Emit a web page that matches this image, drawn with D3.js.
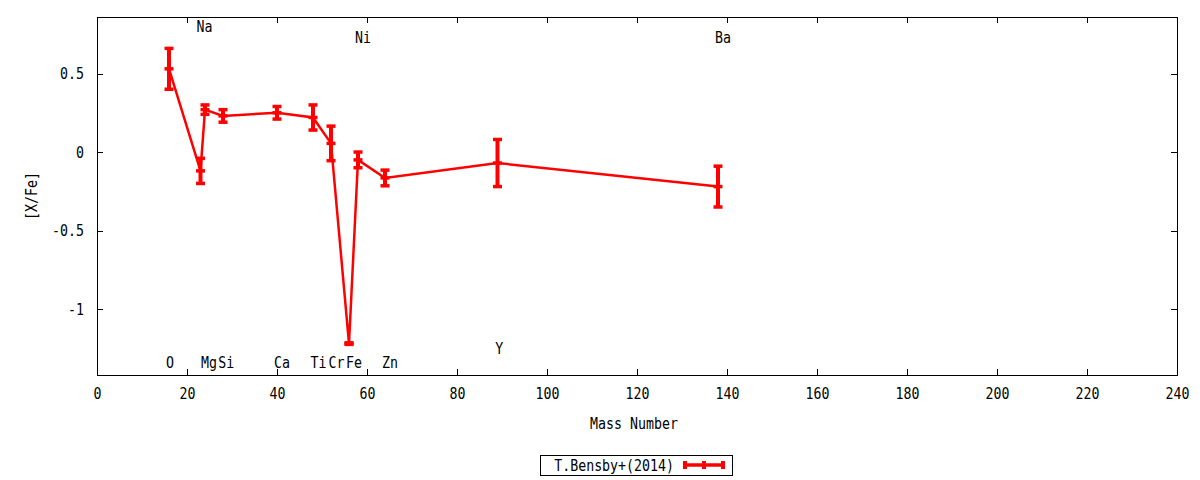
<!DOCTYPE html>
<html>
<head>
<meta charset="utf-8">
<script src="https://cdn.jsdelivr.net/npm/d3@7"></script>
<style>
	html, body { margin: 0; padding: 0; background: #fff; }
	svg text { font-family: "DejaVu Sans Mono", monospace; font-size: 16px; fill: #000; }
</style>
</head>
<body>
<div id="chart"></div>
<script>
// abundances
const elements = ['O', 'Na', 'Mg', 'Si', 'Ca', 'Ti', 'Cr', 'Fe', 'Ni', 'Zn', 'Y', 'Ba'];
const massNumber = [16, 23, 24, 28, 40, 48, 52, 56, 58, 64, 89, 138];
const xFe = [0.53, -0.12, 0.27, 0.23, 0.25, 0.22, 0.055, -1.22, -0.05, -0.165, -0.07, -0.22];
const xFeErr = [0.13, 0.08, 0.03, 0.04, 0.04, 0.08, 0.11, 0.005, 0.05, 0.05, 0.15, 0.13];

// where the element names sit (data units)
const labelX = [16.2, 23.9, 24.9, 28.7, 41.1, 49.2, 53.2, 57.1, 59.1, 65.1, 89.4, 139.1];
const labelY = [-1.34, 0.80, -1.34, -1.34, -1.34, -1.34, -1.34, -1.34, 0.73, -1.34, -1.25, 0.73];

const xTicks = d3.range(0, 241, 20);
const yTicks = [-1, -0.5, 0, 0.5];
const seriesName = 'T.Bensby+(2014)';

const width = 1200, height = 480;
const margin = {top: 17, right: 23, bottom: 105, left: 97};
const red = '#ff0000';
const SQUEEZE = 0.83; // the gnuplot font is narrower than DejaVu Sans Mono

const data = elements.map((el, i) => ({
	el: el,
	x: massNumber[i],
	y: xFe[i],
	err: xFeErr[i]
}));

const svg = d3.select('#chart').append('svg')
	.attr('width', width)
	.attr('height', height);

const x = d3.scaleLinear()
	.domain([0, 240])
	.range([margin.left, width - margin.right]);

const y = d3.scaleLinear()
	.domain([-1.42, 0.86])
	.range([height - margin.bottom, margin.top]);

// narrow text horizontally, keeping its anchor point
function squeeze(sel) {
	sel.each(function() {
		const t = d3.select(this);
		const tx = +t.attr('x') || 0;
		const ty = +t.attr('y') || 0;
		t.attr('x', null).attr('y', null)
			.attr('transform', `translate(${tx},${ty}) scale(${SQUEEZE},1)` + (t.attr('data-rot') ? ` rotate(${t.attr('data-rot')})` : ''));
	});
}

const fmt = d => String(d);

// axes, ticks pointing inwards and mirrored
const gx = svg.append('g')
	.attr('transform', `translate(0,${y.range()[0]})`)
	.call(d3.axisBottom(x).tickValues(xTicks).tickFormat(fmt).tickSize(-6).tickPadding(13));
svg.append('g')
	.attr('transform', `translate(0,${y.range()[1]})`)
	.call(d3.axisTop(x).tickValues(xTicks).tickFormat('').tickSize(-6));
const gy = svg.append('g')
	.attr('transform', `translate(${x.range()[0]},0)`)
	.call(d3.axisLeft(y).tickValues(yTicks).tickFormat(fmt).tickSize(-6).tickPadding(13));
svg.append('g')
	.attr('transform', `translate(${x.range()[1]},0)`)
	.call(d3.axisRight(y).tickValues(yTicks).tickFormat('').tickSize(-6));

svg.selectAll('.domain').remove();
svg.selectAll('.tick line').attr('stroke', '#000').attr('shape-rendering', 'crispEdges');
svg.selectAll('.tick text').attr('font-family', null).attr('font-size', null).attr('fill', null);
gx.selectAll('.tick text').call(squeeze);
gy.selectAll('.tick text').call(squeeze);

svg.append('rect')
	.attr('x', x.range()[0] + 0.5)
	.attr('y', y.range()[1] + 0.5)
	.attr('width', x.range()[1] - x.range()[0])
	.attr('height', y.range()[0] - y.range()[1])
	.attr('fill', 'none')
	.attr('stroke', '#000')
	.attr('stroke-width', 1)
	.attr('shape-rendering', 'crispEdges');

// axis titles
svg.append('text')
	.attr('x', (x.range()[0] + x.range()[1]) / 2 - 3)
	.attr('y', 429)
	.attr('text-anchor', 'middle')
	.text('Mass Number')
	.call(squeeze);

svg.append('text')
	.attr('x', 31)
	.attr('y', (y.range()[0] + y.range()[1]) / 2)
	.attr('text-anchor', 'middle')
	.attr('dy', '0.36em')
	.text('[X/Fe]')
	.each(function() {
		const t = d3.select(this);
		const tx = +t.attr('x'), ty = +t.attr('y');
		t.attr('x', null).attr('y', null)
			.attr('transform', `translate(${tx},${ty}) rotate(-90) scale(${SQUEEZE},1)`);
	});

// the series
const line = d3.line()
	.x(d => x(d.x))
	.y(d => y(d.y));

svg.append('path')
	.datum(data)
	.attr('d', line)
	.attr('fill', 'none')
	.attr('stroke', red)
	.attr('stroke-width', 2.5);

const capW = 9;
const bars = svg.append('g').attr('stroke', red);

bars.selectAll('line.bar')
	.data(data)
	.join('line')
	.attr('class', 'bar')
	.attr('x1', d => x(d.x)).attr('x2', d => x(d.x))
	.attr('y1', d => y(d.y - d.err)).attr('y2', d => y(d.y + d.err))
	.attr('stroke-width', 4);

['lo', 'mid', 'hi'].forEach(k => {
	bars.selectAll('line.cap-' + k)
		.data(data)
		.join('line')
		.attr('class', 'cap-' + k)
		.attr('x1', d => x(d.x) - capW / 2).attr('x2', d => x(d.x) + capW / 2)
		.attr('y1', d => y(k === 'lo' ? d.y - d.err : k === 'hi' ? d.y + d.err : d.y))
		.attr('y2', d => y(k === 'lo' ? d.y - d.err : k === 'hi' ? d.y + d.err : d.y))
		.attr('stroke-width', 3.5);
});

// element names
svg.append('g').selectAll('text')
	.data(data)
	.join('text')
	.attr('x', (d, i) => x(labelX[i]))
	.attr('y', (d, i) => y(labelY[i]))
	.attr('dy', '0.36em')
	.attr('text-anchor', 'middle')
	.text(d => d.el)
	.call(squeeze);

// legend
const legend = svg.append('g');
legend.append('rect')
	.attr('x', 540.5).attr('y', 455.5)
	.attr('width', 192).attr('height', 20)
	.attr('fill', 'none')
	.attr('stroke', '#000')
	.attr('shape-rendering', 'crispEdges');
legend.append('text')
	.attr('x', 674).attr('y', 465)
	.attr('dy', '0.36em')
	.attr('text-anchor', 'end')
	.text(seriesName)
	.call(squeeze);
legend.append('line')
	.attr('x1', 683).attr('x2', 725)
	.attr('y1', 465).attr('y2', 465)
	.attr('stroke', red).attr('stroke-width', 3.5);
[685, 704, 723].forEach(cx => {
	legend.append('line')
		.attr('x1', cx).attr('x2', cx)
		.attr('y1', 461).attr('y2', 469)
		.attr('stroke', red).attr('stroke-width', 4);
});
</script>
</body>
</html>
